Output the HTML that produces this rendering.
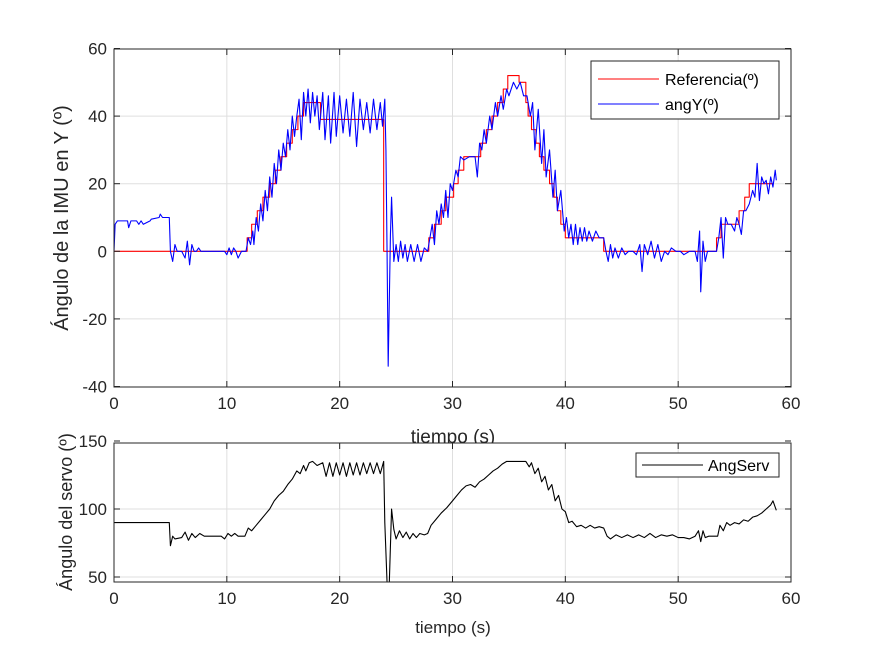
<!DOCTYPE html>
<html><head><meta charset="utf-8"><style>
body{margin:0;background:#fff}
svg{display:block;font-family:"Liberation Sans",sans-serif}
</style></head><body>
<svg id="c" width="875" height="656" xmlns="http://www.w3.org/2000/svg"></svg>
<script>
const xTicks=[0,10,20,30,40,50,60];
const yTicksTop=[-40,-20,0,20,40,60];
const yTicksBot=[50,100,150];
const refT=[0,11.8,12.2,12.7,13.2,13.8,14.3,14.8,15.3,15.8,16.3,16.8,18.3,23.9,27.9,28.4,29.0,29.4,30.1,30.5,31.0,32.5,33.0,33.5,34.0,34.5,34.9,35.9,36.5,36.7,37.0,37.4,37.7,38.1,38.6,39.0,39.3,39.6,40.0,40.3,43.4,53.4,53.8,55.4,55.9,56.3,58.4];
const refV=[0,4,8,12,16,20,24,28,32,36,40,44,39,0,4,8,12,16,20,24,28,32,36,40,44,48,52,50,44,40,36,32,28,24,20,16,12,8,4,4,0,4,8,12,16,20,20];
const angT=[0,0.1,0.3,1.2,1.3,1.5,2.0,2.2,2.4,2.6,3.2,3.3,4.0,4.1,4.3,4.9,5.0,5.2,5.4,5.6,6.0,6.3,6.5,6.7,6.9,7.1,7.3,7.5,7.7,8,9.8,10.0,10.2,10.4,10.6,10.8,11.0,11.3,11.7,11.9,12.1,12.3,12.4,12.6,12.8,13.0,13.2,13.4,13.6,13.8,14.0,14.2,14.4,14.6,14.8,15.0,15.2,15.4,15.6,15.8,16.0,16.2,16.4,16.6,16.8,17.0,17.2,17.4,17.6,17.8,18.0,18.2,18.5,18.7,19.0,19.2,19.5,19.7,20.0,20.3,20.6,20.9,21.2,21.5,21.8,22.1,22.4,22.7,23.0,23.3,23.6,23.8,24.0,24.1,24.2,24.3,24.5,24.6,24.8,25.0,25.2,25.4,25.6,25.8,26.0,26.3,26.6,26.9,27.2,27.5,27.8,28.0,28.2,28.4,28.6,28.8,29.0,29.2,29.4,29.6,29.8,30.0,30.3,30.5,30.7,31.0,31.5,32.0,32.2,32.4,32.6,32.8,33.0,33.3,33.5,33.8,34.0,34.3,34.5,34.8,35.0,35.4,35.7,36.0,36.3,36.6,36.9,37.1,37.3,37.6,37.9,38.1,38.3,38.6,38.9,39.1,39.3,39.6,39.9,40.1,40.3,40.5,40.7,40.9,41.1,41.3,41.5,41.7,41.9,42.1,42.4,42.7,43.0,43.4,43.6,43.8,44.0,44.2,44.4,44.7,45.0,45.3,45.6,46.0,46.3,46.6,46.8,47.0,47.3,47.6,47.9,48.2,48.5,48.8,49.1,49.4,49.8,50.2,50.5,51.0,51.5,51.7,51.9,52.0,52.2,52.4,52.6,53.4,53.6,53.8,54.0,54.2,54.4,54.7,55.0,55.2,55.4,55.6,55.8,56.0,56.3,56.6,56.8,57.0,57.2,57.4,57.6,57.8,58.0,58.2,58.4,58.6,58.7];
const angV=[0,8,9,9,7,9,9,8,9,8,9,9.5,10,11,10,10,0,-3,2,0,0,-2,3,-4,2,0,0,1,0,0,0,-1,1,-1,1,0,-2,0,0,4,2,6,2,10,6,14,9,18,12,22,16,26,20,30,24,32,28,36,30,40,34,40,45,33,47,40,48,38,47,40,46,36,47,33,46,32,47,34,46,35,45,34,47,31,45,36,44,35,45,36,44,37,45,30,0,-34,5,16,-3,2,-3,3,-2,2,-3,2,-3,2,-3,1,0,4,8,2,12,8,14,10,18,10,20,18,24,22,28,27,28,28,22,32,30,36,32,40,36,44,40,46,42,48,46,50,48,50,46,46,40,44,30,42,26,36,22,30,16,24,12,18,6,10,4,8,2,8,2,7,3,7,3,6,3,6,4,4,0,-3,2,-2,1,-2,1,-1,0,0,-1,2,-6,2,-1,3,-2,2,-3,0,-1,1,0,0,-1,0,0,-3,6,-12,3,-3,0,0,4,10,-2,10,8,8,6,10,8,5,12,12,14,18,16,26,15,22,20,21,17,22,19,24,21];
const srvT=[0,4.9,5.0,5.2,5.4,6.0,6.3,6.6,6.9,7.2,7.6,8.0,9.5,9.8,10.1,10.4,10.7,11.0,11.6,11.9,12.2,12.6,13.0,13.4,13.8,14.2,14.6,15.0,15.4,15.8,16.2,16.5,16.8,17.0,17.3,17.6,18.0,18.5,18.8,19.1,19.4,19.7,20.0,20.3,20.6,20.9,21.2,21.5,21.8,22.1,22.4,22.7,23.0,23.3,23.6,23.9,24.0,24.2,24.4,24.6,24.8,25.0,25.3,25.6,25.9,26.2,26.5,26.8,27.1,27.5,27.8,28.1,28.5,29.0,29.5,30.0,30.4,30.8,31.2,31.6,32.0,32.4,32.8,33.2,33.6,34.0,34.4,34.8,36.5,36.8,37.0,37.3,37.6,37.9,38.2,38.5,38.8,39.1,39.4,39.7,40.0,40.3,40.6,41.0,41.4,41.8,42.2,42.6,43.0,43.4,43.7,44.0,44.5,45,45.5,46,46.5,47,47.5,48,48.5,49,49.5,50,50.5,51.0,51.5,51.8,52.0,52.2,52.4,52.7,53.5,53.7,54.0,54.3,54.6,55.0,55.4,55.8,56.2,56.6,57.0,57.4,57.8,58.2,58.4,58.7];
const srvV=[90,90,73,80,78,79,83,77,82,79,82,80,80,78,82,80,82,80,80,86,84,88,92,96,100,106,110,113,118,122,128,126,132,128,134,135,132,134,124,134,124,134,125,134,124,134,125,134,125,134,126,134,126,134,126,135,90,46,46,100,85,78,84,79,83,78,82,79,82,81,82,88,92,97,101,106,110,114,117,118,116,120,122,125,128,130,133,135,135,131,134,126,130,120,124,114,118,106,110,100,98,90,91,87,88,86,88,86,87,86,80,78,81,79,81,79,81,79,82,79,81,80,81,79,79,78,80,84,76,84,79,80,80,88,84,90,88,90,89,92,91,94,95,97,100,103,106,99];

const NS="http://www.w3.org/2000/svg";
const svg=document.getElementById('c');
function mk(tag,attrs,parent){const e=document.createElementNS(NS,tag);for(const k in attrs)e.setAttribute(k,attrs[k]);(parent||svg).appendChild(e);return e;}
const X0=114,X1=791;
const xs=t=>X0+(t/60)*(X1-X0);
const yTop=v=>251.3-v*(67.6/20);
const yBot=v=>509-(v-100)*68/50;
const TOP={y0:49,y1:387},BOT={y0:443,y1:582};

function axes(box,yt,yf,name){
  const g=mk('g',{});
  
  
  mk('rect',{x:X0,y:box.y0,width:X1-X0,height:box.y1-box.y0,fill:'#fff'},g);
  xTicks.forEach(t=>{const l=mk('line',{x1:xs(t),x2:xs(t),y1:box.y0,y2:box.y1,stroke:'#dfdfdf','stroke-width':1},g);
    });
  yt.forEach(v=>{const y=yf(v);if(y>box.y0+1&&y<box.y1-1){const l=mk('line',{x1:X0,x2:X1,y1:y,y2:y,stroke:'#dfdfdf','stroke-width':1},g);
    }});
  return g;
}
function ticks(box,yt,yf,g,fs){
  xTicks.forEach(t=>{mk('line',{x1:xs(t),x2:xs(t),y1:box.y1,y2:box.y1-6,stroke:'#262626'},g);mk('line',{x1:xs(t),x2:xs(t),y1:box.y0,y2:box.y0+6,stroke:'#262626'},g);
    const tx=mk('text',{x:xs(t),y:box.y1+22,'text-anchor':'middle','font-size':fs,fill:'#262626'},g);tx.textContent=t;
    });
  yt.forEach(v=>{const y=yf(v);mk('line',{x1:X0,x2:X0+6,y1:y,y2:y,stroke:'#262626'},g);mk('line',{x1:X1,x2:X1-6,y1:y,y2:y,stroke:'#262626'},g);
    const tx=mk('text',{x:X0-7,y:y+6,'text-anchor':'end','font-size':fs,fill:'#262626'},g);tx.textContent=v;
    });
  mk('rect',{x:X0,y:box.y0,width:X1-X0,height:box.y1-box.y0,fill:'none',stroke:'#262626','stroke-width':1},g);
}
function path(T,V,yf,color,parent,name,step){
  let d='';T.forEach((t,i)=>{const x=xs(t),y=yf(V[i]);
    if(i===0)d+='M'+x+' '+y;else{ if(step)d+=' L'+x+' '+yf(V[i-1]); d+=' L'+x+' '+y;}});
  const p=mk('path',{d:d,fill:'none',stroke:color,'stroke-width':1.1,'stroke-linejoin':'round'},parent);
  
  
}
const gt=axes(TOP,yTicksTop,yTop,'top');
mk('clipPath',{id:'ct'},svg);mk('rect',{x:X0,y:TOP.y0,width:X1-X0,height:TOP.y1-TOP.y0},document.getElementById('ct'));
const st=mk('g',{'clip-path':'url(#ct)'},gt);
path(refT,refV,yTop,'#ff0000',st,'referencia-line',true);
path(angT,angV,yTop,'#0000ff',st,'angy-line',false);
ticks(TOP,yTicksTop,yTop,gt,17);
let t1=mk('text',{x:453,y:443,'text-anchor':'middle','font-size':19,fill:'#262626'});t1.textContent='tiempo (s)';

let t2=mk('text',{transform:'translate(68,218) rotate(-90)','text-anchor':'middle','font-size':20,fill:'#262626'});t2.textContent='Ángulo de la IMU en Y (º)';

const lg=mk('g',{});
mk('rect',{x:591,y:61,width:188,height:58,fill:'#fff',stroke:'#262626'},lg);
mk('line',{x1:598,x2:659,y1:79,y2:79,stroke:'#ff0000'},lg);
mk('line',{x1:598,x2:659,y1:104,y2:104,stroke:'#0000ff'},lg);
let l1=mk('text',{x:665,y:85,'font-size':16,fill:'#000'},lg);l1.textContent='Referencia(º)';

let l2=mk('text',{x:665,y:110,'font-size':16,fill:'#000'},lg);l2.textContent='angY(º)';

const gb=axes(BOT,yTicksBot,yBot,'bottom');
mk('clipPath',{id:'cb'},svg);mk('rect',{x:X0,y:BOT.y0,width:X1-X0,height:BOT.y1-BOT.y0},document.getElementById('cb'));
const sb=mk('g',{'clip-path':'url(#cb)'},gb);
path(srvT,srvV,yBot,'#000000',sb,'angserv-line',false);
ticks(BOT,yTicksBot,yBot,gb,17);
let t3=mk('text',{x:453,y:633,'text-anchor':'middle','font-size':17,fill:'#262626'});t3.textContent='tiempo (s)';

let t4=mk('text',{transform:'translate(72,512) rotate(-90)','text-anchor':'middle','font-size':18,fill:'#262626'});t4.textContent='Ángulo del servo (º)';

const lb=mk('g',{});
mk('rect',{x:636,y:453,width:143,height:24,fill:'#fff',stroke:'#262626'},lb);
mk('line',{x1:642,x2:703,y1:465,y2:465,stroke:'#000'},lb);
let l3=mk('text',{x:708,y:471,'font-size':16,fill:'#000'},lb);l3.textContent='AngServ';

</script>
</body></html>
